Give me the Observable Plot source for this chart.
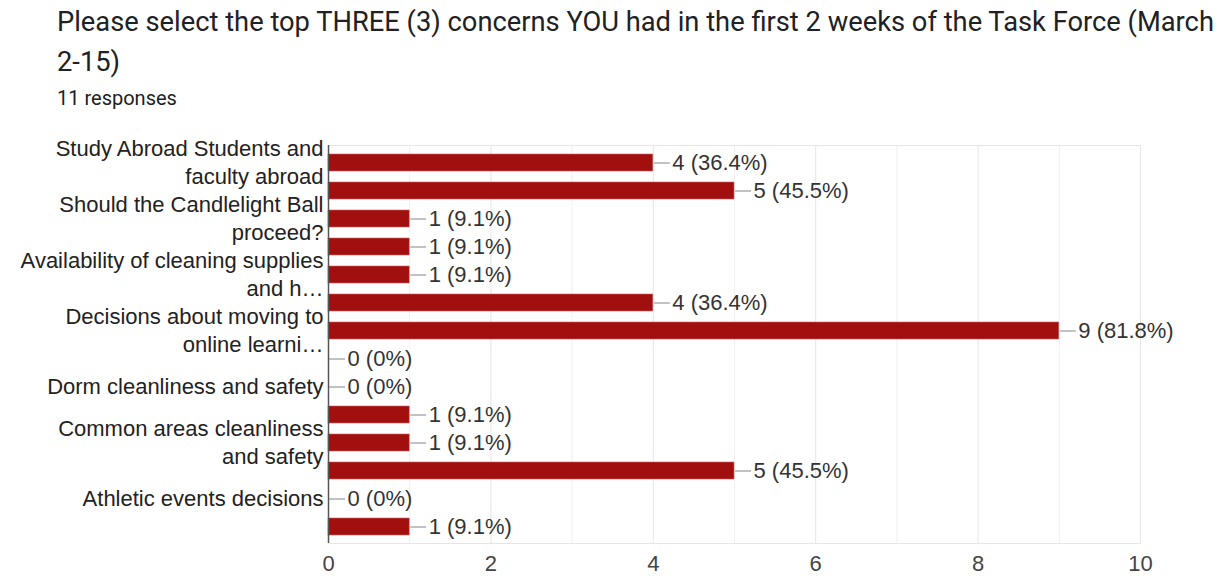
<!DOCTYPE html>
<html>
<head>
<meta charset="utf-8">
<script src="https://cdn.jsdelivr.net/npm/d3@7"></script>
<script src="https://cdn.jsdelivr.net/npm/@observablehq/plot@0.6"></script>
<style>
  html, body { margin: 0; padding: 0; background: #fff; }
  body { position: relative; width: 1222px; height: 576px; overflow: hidden; }
  #title { position: absolute; left: 57px; top: 2px; font-family: Roboto, "Noto Sans", sans-serif; font-size: 27.3px; line-height: 40px; color: #202124; white-space: nowrap; }
  #sub { position: absolute; left: 57px; top: 86px; font-family: Roboto, "Noto Sans", sans-serif; font-size: 20px; line-height: 24px; color: #202124; }
  #chart { position: absolute; left: 0; top: 125px; }
</style>
</head>
<body>
<div id="title">Please select the top THREE (3) concerns YOU had in the first 2 weeks of the Task Force (March<br>2-15)</div>
<div id="sub">11 responses</div>
<div id="chart"></div>
<script>
// Tick labels as shown (Google hides every other label; hidden ones are empty)
const tickLabels = [
  "Study Abroad Students and\nfaculty abroad",
  "",
  "Should the Candlelight Ball\nproceed?",
  "",
  "Availability of cleaning supplies\nand h…",
  "",
  "Decisions about moving to\nonline learni…",
  "",
  "Dorm cleanliness and safety",
  "",
  "Common areas cleanliness\nand safety",
  "",
  "Athletic events decisions",
  ""
];
const counts = [4, 5, 1, 1, 1, 4, 9, 0, 0, 1, 1, 5, 0, 1];
const percents = ["36.4%", "45.5%", "9.1%", "9.1%", "9.1%", "36.4%", "81.8%", "0%", "0%", "9.1%", "9.1%", "45.5%", "0%", "9.1%"];
const xTicks = [0, 2, 4, 6, 8, 10];
const minorTicks = [1, 3, 5, 7, 9];

const rows = counts.map((v, i) => ({ idx: i, value: v, label: `${v} (${percents[i]})` }));

const chart = Plot.plot({
  width: 1222,
  height: 451,
  marginTop: 20,
  marginBottom: 33,
  marginLeft: 328,
  marginRight: 82,
  style: { fontFamily: "'Liberation Sans', Arial, sans-serif", fontSize: "22px", color: "#222", background: "#fff" },
  x: { domain: [0, 10], ticks: xTicks },
  y: { domain: d3.range(counts.length), paddingInner: 0.4, paddingOuter: 0.2, align: 0.5 },
  marks: [
    Plot.ruleX(minorTicks, { stroke: "#f1f1f1" }),
    Plot.ruleX(xTicks.slice(1), { stroke: "#e6e6e6" }),
    Plot.frame({ stroke: "#e6e6e6" }),
    Plot.barX(rows, { y: "idx", x: "value", fill: "#a10f0f", stroke: "#c46a6a", strokeWidth: 0.6 }),
    Plot.ruleY(rows, { y: "idx", x1: "value", x2: "value", insetLeft: 1, insetRight: -17, stroke: "#9a9a9a", strokeWidth: 1.2 }),
    Plot.text(rows, { y: "idx", x: "value", text: "label", dx: 19, textAnchor: "start", fill: "#333", fontSize: 22 }),
    Plot.ruleX([0], { stroke: "#555", strokeWidth: 1.5 }),
    Plot.axisY({ tickSize: 0, tickPadding: 5, dy: -2, tickFormat: i => tickLabels[i], fontSize: 22, lineHeight: 28 / 22, fill: "#222", label: null }),
    Plot.axisX({ ticks: xTicks, tickSize: 0, tickPadding: 12, fontSize: 22, fill: "#444", label: null })
  ]
});
document.getElementById("chart").appendChild(chart);
</script>
</body>
</html>
